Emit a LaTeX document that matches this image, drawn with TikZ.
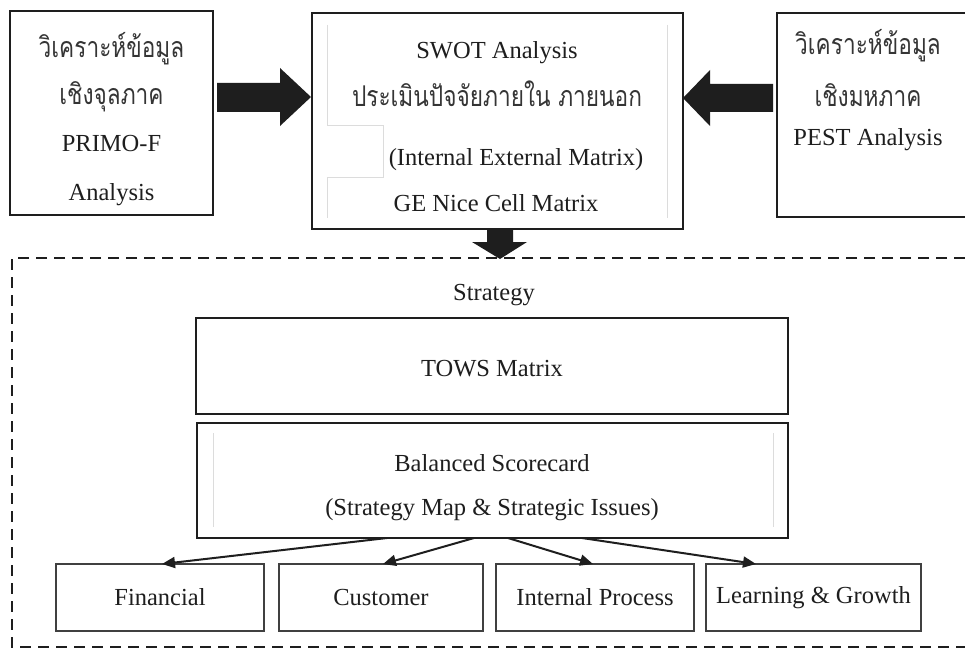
\documentclass[tikz,border=0pt]{standalone}
\usepackage{fontspec}
\setmainfont{Liberation Serif}
\newfontfamily\thaifont[Script=Thai]{Loma}
\usetikzlibrary{arrows.meta,calc}
\definecolor{ink}{HTML}{1E1E1E}
\definecolor{faint}{HTML}{DCDCDC}
\newcommand\thtxt[1]{\scalebox{1.03}[1.3]{#1}}
\tikzset{
 frame/.style={draw=ink, line width=2pt, inner sep=0pt, outer sep=0pt},
 smallbox/.style={draw=ink!85, line width=1.3pt, inner sep=0pt, outer sep=0pt, minimum height=67pt},
 lbl/.style={inner sep=0pt, font=\fontsize{24.5}{29}\selectfont, text=ink},
 thl/.style={inner sep=0pt, font=\thaifont\fontsize{22}{28}\selectfont, text=ink!90},
 blockarrow/.style={fill=ink, draw=none},
 conn/.style={draw=ink, line width=2pt, -{Triangle[length=13pt,width=11pt]}},
 guide/.style={draw=faint, line width=1pt},
 dashframe/.style={draw=ink, line width=2.2pt, dash pattern=on 11pt off 7pt},
}
\begin{document}
\begin{tikzpicture}[x=1pt,y=-1pt]
\useasboundingbox (0,0) rectangle (965,650);
\fill[white] (0,0) rectangle (965,650);
\begin{scope}
\clip (0,0) rectangle (965,650);

% top row boxes
\node[frame, minimum width=203pt, minimum height=204pt] (L) at (111.5,113) {};
\node[frame, minimum width=371pt, minimum height=216pt] (C) at (497.5,121) {};
\draw[ink, line width=2pt] (965,13) -- (777,13) -- (777,217) -- (965,217);

% faint guide lines inside centre box
\draw[guide] (327,25) -- (327,125) -- (383,125) -- (383,177) -- (327,177) -- (327,218);
\draw[guide] (667,25) -- (667,218);

% left box texts
\node[thl] (L1) at (111.5,49) {\thtxt{วิเคราะห์ข้อมูล}};
\node[thl] (L2) at (111.5,97) {\thtxt{เชิงจุลภาค}};
\node[lbl] (L3) at (111.5,144) {PRIMO-F};
\node[lbl] (L4) at (111.5,195) {Analysis};

% centre box texts
\node[lbl] (C1) at (497,53) {SWOT Analysis};
\node[thl] (C2) at (497,94) {\thtxt{ประเมินปัจจัยภายใน ภายนอก}};
\node[lbl] (C3) at (516,160) {(Internal External Matrix)};
\node[lbl] (C4) at (496,203) {GE Nice Cell Matrix};

% right box texts
\node[thl] (R1) at (868,46) {\thtxt{วิเคราะห์ข้อมูล}};
\node[thl] (R2) at (868,95) {\thtxt{เชิงมหภาค}};
\node[lbl] (R3) at (868,140) {PEST Analysis};

% block arrows
\fill[blockarrow] (217,83) -- (280,83) -- (280,68) -- (311,97) -- (280,126) -- (280,112) -- (217,112) -- cycle;
\fill[blockarrow] (773,84) -- (710,84) -- (710,70) -- (683,98) -- (710,126) -- (710,112) -- (773,112) -- cycle;
\fill[blockarrow] (487,229) -- (513,229) -- (513,242) -- (527,242) -- (500,259) -- (472,242) -- (487,242) -- cycle;

% dashed strategy frame
\draw[dashframe] (965,258) -- (12,258) -- (12,647) -- (965,647);

\node[lbl] (S) at (494,295) {Strategy};

\node[frame, line width=2.3pt, minimum width=592pt, minimum height=96pt] (T) at (492,366) {};
\node[lbl] (T1) at (492,369) {TOWS Matrix};

\node[frame, line width=2.3pt, minimum width=591pt, minimum height=115pt] (B) at (492.5,480.5) {};
\draw[guide] (213,433) -- (213,527);
\draw[guide] (773,433) -- (773,527);
\node[lbl] (B1) at (492,463) {Balanced Scorecard};
\node[lbl] (B2) at (492,510) {(Strategy Map \& Strategic Issues)};

% perspective boxes
\node[smallbox, minimum width=208pt] (F) at (160,597.5) {};
\node[lbl] (Ft) at (F) {Financial};
\node[smallbox, minimum width=204pt] (Cu) at (381,597.5) {};
\node[lbl] (Cut) at (Cu) {Customer};
\node[smallbox, minimum width=198pt] (IP) at (595,597.5) {};
\node[lbl] (IPt) at (IP) {Internal Process};
\node[smallbox, minimum width=215pt] (LG) at (813.5,597.5) {};
\node[lbl] (LGt) at (LG) {Learning \& Growth};

% connectors
\draw[conn] ([xshift=-105.5pt]B.south) -- ([xshift=2pt]F.north);
\draw[conn] ([xshift=-18.5pt]B.south) -- ([xshift=2pt]Cu.north);
\draw[conn] ([xshift=15.5pt]B.south) -- ([xshift=-2pt]IP.north);
\draw[conn] ([xshift=89.5pt]B.south) -- ([xshift=50pt]LG.north west);
\end{scope}
\end{tikzpicture}
\end{document}
